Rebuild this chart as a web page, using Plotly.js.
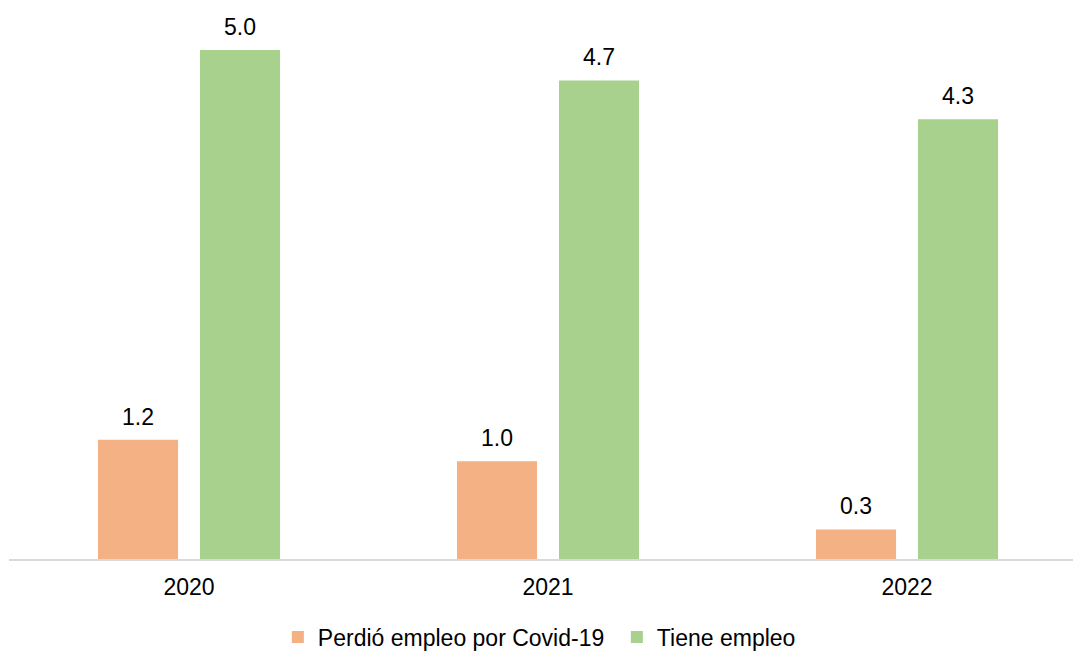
<!DOCTYPE html>
<html>
<head>
<meta charset="utf-8">
<script src="https://cdn.plot.ly/plotly-3.0.1.min.js"></script>
<style>html,body{margin:0;padding:0;background:#fff}#chart{width:1073px;height:651px}</style>
</head>
<body>
<div id="chart"></div>
<script>
const years = ["2020", "2021", "2022"];
const seriesNames = ["Perdió empleo por Covid-19", "Tiene empleo"];
const perdioEmpleo = [1.17, 0.96, 0.29];
const tieneEmpleo = [5.0, 4.7, 4.32];

const colors = ["#F4B183", "#A9D18E"];
const barWidth = 0.223;
const offsets = [-0.2535, 0.0306];
const FONT = "Liberation Sans, Arial, sans-serif";

const seriesValues = [perdioEmpleo, tieneEmpleo];
const traces = seriesValues.map((vals, i) => ({
  type: "bar",
  name: seriesNames[i],
  x: years,
  y: vals,
  width: barWidth,
  offset: offsets[i],
  marker: {color: colors[i]},
  hoverinfo: "none"
}));

const annotations = [];
seriesValues.forEach((vals, i) => {
  vals.forEach((v, j) => {
    annotations.push({
      x: j + offsets[i] + barWidth / 2,
      y: v,
      xref: "x", yref: "y",
      text: v.toFixed(1),
      showarrow: false,
      yanchor: "bottom",
      yshift: 8,
      font: {family: FONT, size: 23, color: "#000"}
    });
  });
});

const layout = {
  width: 1073, height: 651,
  margin: {l: 9, r: 0, t: 0, b: 92, autoexpand: false},
  paper_bgcolor: "#fff", plot_bgcolor: "#fff",
  barmode: "group",
  showlegend: true,
  legend: {
    orientation: "h", x: 0.2527, xanchor: "left", y: -0.1395, yanchor: "middle",
    entrywidth: 294, entrywidthmode: "pixels",
    font: {family: FONT, size: 23, color: "#000"},
    traceorder: "normal"
  },
  xaxis: {
    type: "category",
    range: [-0.5014, 2.4624],
    showline: true, linecolor: "#D9D9D9", linewidth: 2,
    ticks: "", showgrid: false, zeroline: false,
    tickfont: {family: FONT, size: 23, color: "#000"},
    ticklabelstandoff: 6
  },
  yaxis: {
    range: [0, 5.49],
    visible: false, showgrid: false, zeroline: false
  },
  annotations: annotations
};

Plotly.newPlot("chart", traces, layout, {displayModeBar: false, staticPlot: true});
</script>
</body>
</html>
